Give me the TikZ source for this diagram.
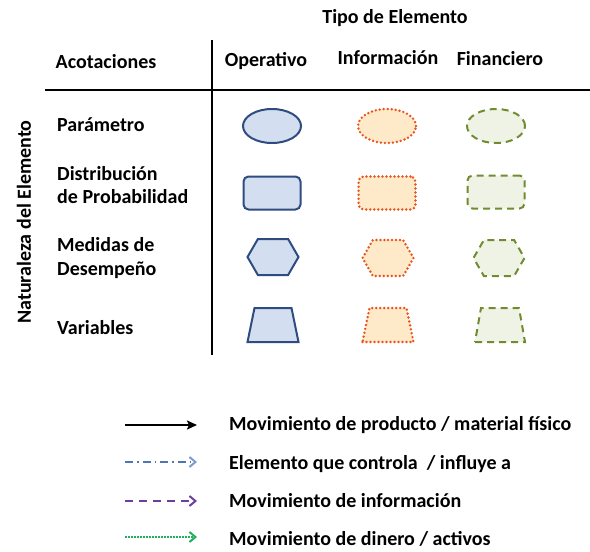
\documentclass[tikz,border=0pt]{standalone}
\usepackage{fontspec}
\setmainfont{Carlito}
\usetikzlibrary{shapes.geometric,shapes.symbols,arrows.meta}
\definecolor{opfill}{HTML}{D3DFF0}
\definecolor{opdraw}{HTML}{2E4C80}
\definecolor{infill}{HTML}{FEE9C8}
\definecolor{indraw}{HTML}{E8541E}
\definecolor{fifill}{HTML}{EFF3E6}
\definecolor{fidraw}{HTML}{6F8C30}
\definecolor{ctrlc}{HTML}{4F74B8}
\definecolor{ctrlh}{HTML}{7C9CCC}
\definecolor{infoc}{HTML}{6A3FA0}
\definecolor{moneyc}{HTML}{20B060}
\tikzset{
  lbl/.style={font=\fontsize{20}{23.5}\selectfont\bfseries, inner sep=0pt},
  rowlbl/.style={lbl, anchor=west, align=left},
  op/.style={fill=opfill, draw=opdraw, line width=2pt, inner sep=0pt},
  inf/.style={fill=infill, draw=indraw, line width=2.7pt, dash pattern=on 0pt off 4pt, line cap=round, inner sep=0pt},
  fin/.style={fill=fifill, draw=fidraw, line width=2pt, dash pattern=on 7pt off 5pt, inner sep=0pt},
  ell/.style={ellipse, minimum width=58pt, minimum height=34pt},
  box/.style={rectangle, rounded corners=5pt, minimum width=57pt, minimum height=33pt},
  hexa/.style={signal, signal to=west and east, signal pointer angle=120, minimum width=51pt, minimum height=36pt},
  rule/.style={line width=1.8pt, black},
  leg/.style={line width=1.6pt},
  barb/.style={-{Straight Barb[length=6pt,width=10pt,line width=2pt,#1]}}
}
\begin{document}
\begin{tikzpicture}[x=1pt, y=-1pt]
\useasboundingbox (0,0) rectangle (590,552);
% headers
\node[lbl] (tipo) at (395,18) {Tipo de Elemento};
\node[lbl] (acot) at (106,62) {Acotaciones};
\node[lbl] (oper) at (266,61) {Operativo};
\node[lbl] (info) at (388,58) {Información};
\node[lbl] (fina) at (500,59) {Financiero};
\node[lbl, rotate=90] (nat) at (24,222) {Naturaleza del Elemento};
% rules
\coordinate (vt) at (212,40);
\coordinate (vb) at (212,355);
\coordinate (hl) at (45,90);
\coordinate (hr) at (590,90);
\draw[rule] (vt) -- (vb);
\draw[rule] (hl) -- (hr);
% row labels
\node[rowlbl] (r1) at (57,125) {Parámetro};
\node[rowlbl] (r2) at (57,185) {Distribución\\de Probabilidad};
\node[rowlbl] (r3) at (57,258) {Medidas de\\Desempeño};
\node[rowlbl] (r4) at (57,328) {Variables};
% operative
\node[op, ell] (o1) at (272,126) {};
\node[op, box] (o2) at (272,193) {};
\node[op, hexa] (o3) at (273,257) {};
\coordinate (o4) at (273,325);
\draw[op] (o4) ++(-25.5,17) -- ++(51,0) -- ++(-7,-34) -- ++(-37,0) -- cycle;
% information
\node[inf, ell] (i1) at (387,126) {};
\node[inf, box] (i2) at (387,193) {};
\node[inf, hexa] (i3) at (388,258) {};
\coordinate (i4) at (388,325);
\draw[inf] (i4) ++(-25.5,17) -- ++(51,0) -- ++(-7,-34) -- ++(-37,0) -- cycle;
% financial
\node[fin, ell] (f1) at (496,126) {};
\node[fin, box] (f2) at (496,192) {};
\node[fin, hexa] (f3) at (499,258) {};
\coordinate (f4) at (500,325);
\draw[fin] (f4) ++(-25,17) -- ++(50,0) -- ++(-6,-34) -- ++(-38,0) -- cycle;
% legend
\node[lbl, anchor=west] (t1) at (229,425) {Movimiento de producto / material físico};
\node[lbl, anchor=west] (t2) at (229,464) {Elemento que controla\ \ / influye a};
\node[lbl, anchor=west] (t3) at (229,501) {Movimiento de información};
\node[lbl, anchor=west] (t4) at (229,539) {Movimiento de dinero / activos};
\coordinate (a1s) at (125,425); \coordinate (a1e) at (197,425);
\coordinate (a2s) at (125,462); \coordinate (a2e) at (197,462);
\coordinate (a3s) at (125,501); \coordinate (a3e) at (197,501);
\coordinate (a4s) at (125,537); \coordinate (a4e) at (197,537);
\draw[leg, black, line width=2pt, -{Stealth[length=10pt,width=9pt,inset=2pt]}] (a1s) -- (a1e);
\draw[leg, ctrlc, dash pattern=on 8pt off 4pt on 1.5pt off 4pt, barb={ctrlh}] (a2s) -- (a2e);
\draw[leg, infoc, line width=2.2pt, dash pattern=on 8pt off 6pt, barb={}] (a3s) -- (a3e);
\draw[leg, moneyc, line width=2pt, dash pattern=on 1.5pt off 1.5pt, barb={}] (a4s) -- (a4e);
\end{tikzpicture}
\end{document}
